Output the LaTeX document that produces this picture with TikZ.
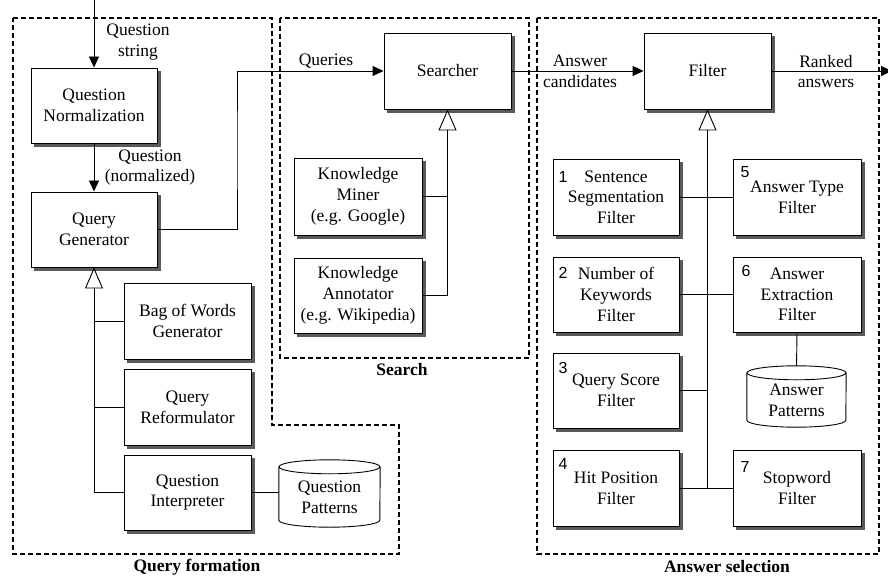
\documentclass[tikz,border=0pt]{standalone}
\usepackage{fontspec}
\setmainfont{Liberation Serif}
\newfontfamily\numfont{Liberation Sans}
\usetikzlibrary{arrows.meta}
\definecolor{shadowgrey}{HTML}{5A5A5A}
\begin{document}
\begin{tikzpicture}[x=1pt,y=-1pt,
  every node/.style={font=\fontsize{17.5}{20.7}\selectfont, inner sep=0pt, align=center},
  box/.style={draw, fill=white, line width=0.9pt, minimum width=126pt, minimum height=75pt},
  shadowline/.style={draw=shadowgrey, line width=3.5pt},
  num/.style={font=\numfont\fontsize{16}{18}\selectfont},
  grp/.style={font=\bfseries\fontsize{17.5}{20.7}\selectfont},
  region/.style={line width=1.5pt, dash pattern=on 5pt off 3pt},
  conn/.style={line width=0.9pt},
  arr/.style={conn, -{Triangle[length=11pt,width=10pt]}},
  inh/.style={conn, -{Triangle[open, length=21pt, width=18pt, line width=0.9pt, fill=white]}},
  cyl/.style={line width=0.9pt}
]
\useasboundingbox (0,0) rectangle (888,577);

% regions
\draw[region] (13,18) -- (272,18) -- (272,425) -- (399,425) -- (399,554) -- (13,554) -- cycle;
\draw[region] (280,18) rectangle (529,358);
\draw[region] (537,18) rectangle (879,554);
\node[grp] (lqf) at (197,567) {Query formation};
\node[grp] (lse) at (402,370) {Search};
\node[grp] (las) at (727,567) {Answer selection};

% query formation
\node[box] (qn) at (94,105.5) {Question\\Normalization};
\node[box] (qg) at (94,229.5) {Query\\Generator};
\node[box, minimum width=127pt, minimum height=76pt] (bow) at (187.5,321) {Bag of Words\\Generator};
\node[box, minimum width=127pt, minimum height=76pt] (qr) at (187.5,407) {Query\\Reformulator};
\node[box, minimum width=127pt] (qi) at (187.5,492.5) {Question\\Interpreter};
\node[minimum width=101pt, minimum height=60pt] (qp) at (329.5,497) {Question\\Patterns};
\draw[cyl] (qp.north) ellipse [x radius=50.5pt, y radius=7pt];
\draw[cyl] (qp.north west) -- ([yshift=7pt]qp.south west)
  arc [start angle=180, end angle=360, x radius=50.5pt, y radius=7pt] -- (qp.north east);

% search
\node[box, minimum width=127pt, minimum height=76pt] (se) at (447.5,71) {Searcher};
\node[box, minimum width=128pt, minimum height=77pt] (km) at (358,196.5) {Knowledge\\Miner\\(e.g. Google)};
\node[box, minimum width=128pt] (ka) at (358,295.5) {Knowledge\\Annotator\\(e.g. Wikipedia)};

% answer selection
\node[box, minimum width=127pt, minimum height=76pt] (fi) at (707.5,71) {Filter};
\node[box, minimum height=76pt] (f1) at (616,197) {Sentence\\Segmentation\\Filter};
\node[box, minimum width=128pt, minimum height=76pt] (f5) at (797,197) {Answer Type\\Filter};
\node[box] (f2) at (616,294.5) {Number of\\Keywords\\Filter};
\node[box, minimum width=128pt] (f6) at (797,294.5) {Answer\\Extraction\\Filter};
\node[box] (f3) at (616,390.5) {Query Score\\Filter};
\node[box, minimum height=76pt] (f4) at (616,488) {Hit Position\\Filter};
\node[box, minimum width=128pt, minimum height=76pt] (f7) at (797,488) {Stopword\\Filter};
\node[minimum width=99pt, minimum height=54pt] (ap) at (796.5,400) {Answer\\Patterns};
\draw[cyl] (ap.north) ellipse [x radius=49.5pt, y radius=7pt];
\draw[cyl] (ap.north west) -- ([yshift=7pt]ap.south west)
  arc [start angle=180, end angle=360, x radius=49.5pt, y radius=7pt] -- (ap.north east);

% box shadows (right and bottom strips)
\foreach \b in {qn,qg,bow,qr,qi,se,km,ka,fi,f1,f2,f3,f4,f5,f6,f7}{
  \draw[shadowline] ([xshift=2.2pt,yshift=-3.5pt]\b.north east) -- ([xshift=2.2pt,yshift=-2.2pt]\b.south east)
    -- ([xshift=3.5pt,yshift=-2.2pt]\b.south west);
}

\node[num] (n1) at (563,177) {1};
\node[num] (n5) at (745,172) {5};
\node[num] (n2) at (563,273) {2};
\node[num] (n6) at (746,271) {6};
\node[num] (n3) at (563,368) {3};
\node[num] (n4) at (563,464) {4};
\node[num] (n7) at (745,467) {7};

% connectors
\coordinate (in) at (94,0);
\draw[arr] (in) -- (qn.north);
\node (lqs) at (138,42) {Question\\string};
\draw[arr] (qn.south) -- (qg.north);
\node (lqnz) at (150,167.5) {Question\\(normalized)};
\coordinate (bend) at (237,150);
\draw[arr] (qg.east) -| (bend) |- (se.west);
\node (lq) at (326,61) {Queries};
\draw[arr] (se.east) -- (fi.west);
\node (lac) at (580,71.5) {Answer\\candidates};
\coordinate (out) at (892,71);
\draw[arr] (fi.east) -- (out);
\node (lra) at (826,71.5) {Ranked\\answers};

% query generator inheritance
\draw[inh] (qi.west -| qg.south) -- (qg.south);
\draw[conn] (bow.west) -- (bow.west -| qg.south);
\draw[conn] (qr.west) -- (qr.west -| qg.south);
\draw[conn] (qi.west) -- (qi.west -| qg.south);
\draw[conn] (qi.east) -- (qi.east -| qp.west);

% searcher inheritance
\draw[inh] (ka.east -| se.south) -- (se.south);
\draw[conn] (km.east) -- (km.east -| se.south);
\draw[conn] (ka.east) -- (ka.east -| se.south);

% filter inheritance
\draw[inh, line width=1.8pt] (f4.east -| fi.south) -- (fi.south);
\draw[conn] (f1.east) -- (f5.west);
\draw[conn] (f2.east) -- (f6.west);
\draw[conn] (f3.east) -- (f3.east -| fi.south);
\draw[conn] (f4.east) -- (f7.west);
\draw[conn] (f6.south) -- ([yshift=7pt]ap.north);
\end{tikzpicture}
\end{document}
